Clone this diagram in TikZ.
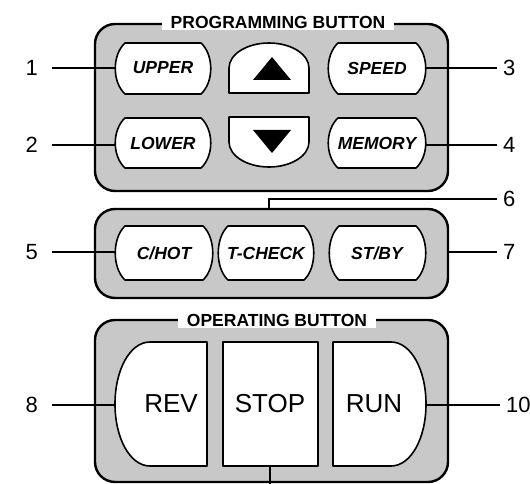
\documentclass[tikz,border=0pt]{standalone}
\usepackage{fontspec}
\setmainfont{Liberation Sans}
\definecolor{panelgray}{RGB}{200,200,200}
\newcommand\pbtn[4]{%
  \draw[btn] (#1+10,#2) -- (#3-10,#2) .. controls (#3+3,#2+12) and (#3+3,#4-12) .. (#3-10,#4)
    -- (#1+10,#4) .. controls (#1-3,#4-12) and (#1-3,#2+12) .. (#1+10,#2) -- cycle;}
\begin{document}
\begin{tikzpicture}[x=1pt,y=-1pt,
  panel/.style={fill=panelgray,draw=black,line width=2.4pt,rounded corners=20pt},
  btn/.style={fill=white,draw=black,line width=1.6pt,line join=round},
  btext/.style={font=\fontsize{17.5}{20}\selectfont\bfseries\itshape,inner sep=0pt},
  bigtext/.style={font=\fontsize{26}{30}\selectfont,inner sep=0pt},
  ttl/.style={font=\fontsize{17.5}{20}\selectfont\bfseries,fill=white,inner xsep=9pt,inner ysep=1.5pt},
  lnum/.style={font=\fontsize{22}{26}\selectfont,inner ysep=0pt},
  lleft/.style={lnum,anchor=east,inner xsep=14pt},
  lright/.style={lnum,anchor=west,inner xsep=6pt},
  lead/.style={draw=black,line width=1.1pt}]
\useasboundingbox (0,0) rectangle (530,484);
% panels
\draw[panel] (95,24) rectangle (448,191);
\node[ttl] (ttl1) at (278,22) {PROGRAMMING BUTTON};
\draw[panel] (95,209) rectangle (448,298);
\draw[panel] (95,320) rectangle (448,482);
\node[ttl] (ttl2) at (277,320) {OPERATING BUTTON};
% programming buttons
\pbtn{115}{43}{211}{94}
\pbtn{328}{43}{426}{94}
\pbtn{115}{118}{211}{168}
\pbtn{328}{118}{426}{168}
\node[btext] (upper) at (163,68) {UPPER};
\node[btext] (speed) at (377,68) {SPEED};
\node[btext] (lower) at (163,143) {LOWER};
\node[btext] (memory) at (377,143) {MEMORY};
% arrow buttons
\draw[btn] (229,93) -- (229,68) .. controls (229,54.2) and (246.9,43) .. (269,43)
  .. controls (291.1,43) and (309,54.2) .. (309,68) -- (309,93) -- cycle;
\fill (253,80) -- (291,80) -- (272,57) -- cycle;
\draw[btn] (229,117) -- (309,117) -- (309,142) .. controls (309,155.8) and (291.1,167) .. (269,167)
  .. controls (246.9,167) and (229,155.8) .. (229,142) -- cycle;
\fill (253,130) -- (291,130) -- (272,153) -- cycle;
% second row
\pbtn{115}{226}{213}{280}
\pbtn{218}{226}{314}{280}
\pbtn{329}{226}{426}{280}
\node[btext] (chot) at (164,253) {C/HOT};
\node[btext] (tcheck) at (266,253) {T-CHECK};
\node[btext] (stby) at (377,253) {ST/BY};
% operating buttons
\draw[btn] (207,342) -- (150,342) .. controls (130,342) and (115,369.8) .. (115,404)
  .. controls (115,438.2) and (130,466) .. (150,466) -- (207,466) -- cycle;
\draw[btn] (223,342) rectangle (318,466);
\draw[btn] (333,342) -- (391,342) .. controls (411,342) and (426,369.8) .. (426,404)
  .. controls (426,438.2) and (411,466) .. (391,466) -- (333,466) -- cycle;
\node[bigtext] (rev) at (171,404) {REV};
\node[bigtext] (stop) at (270,404) {STOP};
\node[bigtext] (run) at (374,404) {RUN};
% connector end points
\coordinate (upperW) at (115,68);
\coordinate (speedE) at (426,68);
\coordinate (lowerW) at (115,145);
\coordinate (memoryE) at (426,145);
\coordinate (chotW) at (115,252);
\coordinate (pan2E) at (448,252);
\coordinate (pan2T) at (269,209);
\coordinate (revW) at (115,405);
\coordinate (runE) at (426,405);
\coordinate (stopS) at (270,466);
\coordinate (bottomEnd) at (270,484);
% labels
\node[lleft] (l1) at (52,68) {1};
\node[lleft] (l2) at (52,145) {2};
\node[lright] (l3) at (497,68) {3};
\node[lright] (l4) at (497,145) {4};
\node[lleft] (l5) at (52,252) {5};
\node[lright] (l6) at (497,199) {6};
\node[lright] (l7) at (497,252) {7};
\node[lleft] (l8) at (52,405) {8};
\node[lright] (l10) at (500,405) {10};
\draw[lead] (l1) -- (upperW);
\draw[lead] (l2) -- (lowerW);
\draw[lead] (l3) -- (speedE);
\draw[lead] (l4) -- (memoryE);
\draw[lead] (l5) -- (chotW);
\draw[lead] (l6) -| (pan2T);
\draw[lead] (l7) -- (pan2E);
\draw[lead] (l8) -- (revW);
\draw[lead] (l10) -- (runE);
\draw[lead] (stopS) -- (bottomEnd);
\end{tikzpicture}
\end{document}
